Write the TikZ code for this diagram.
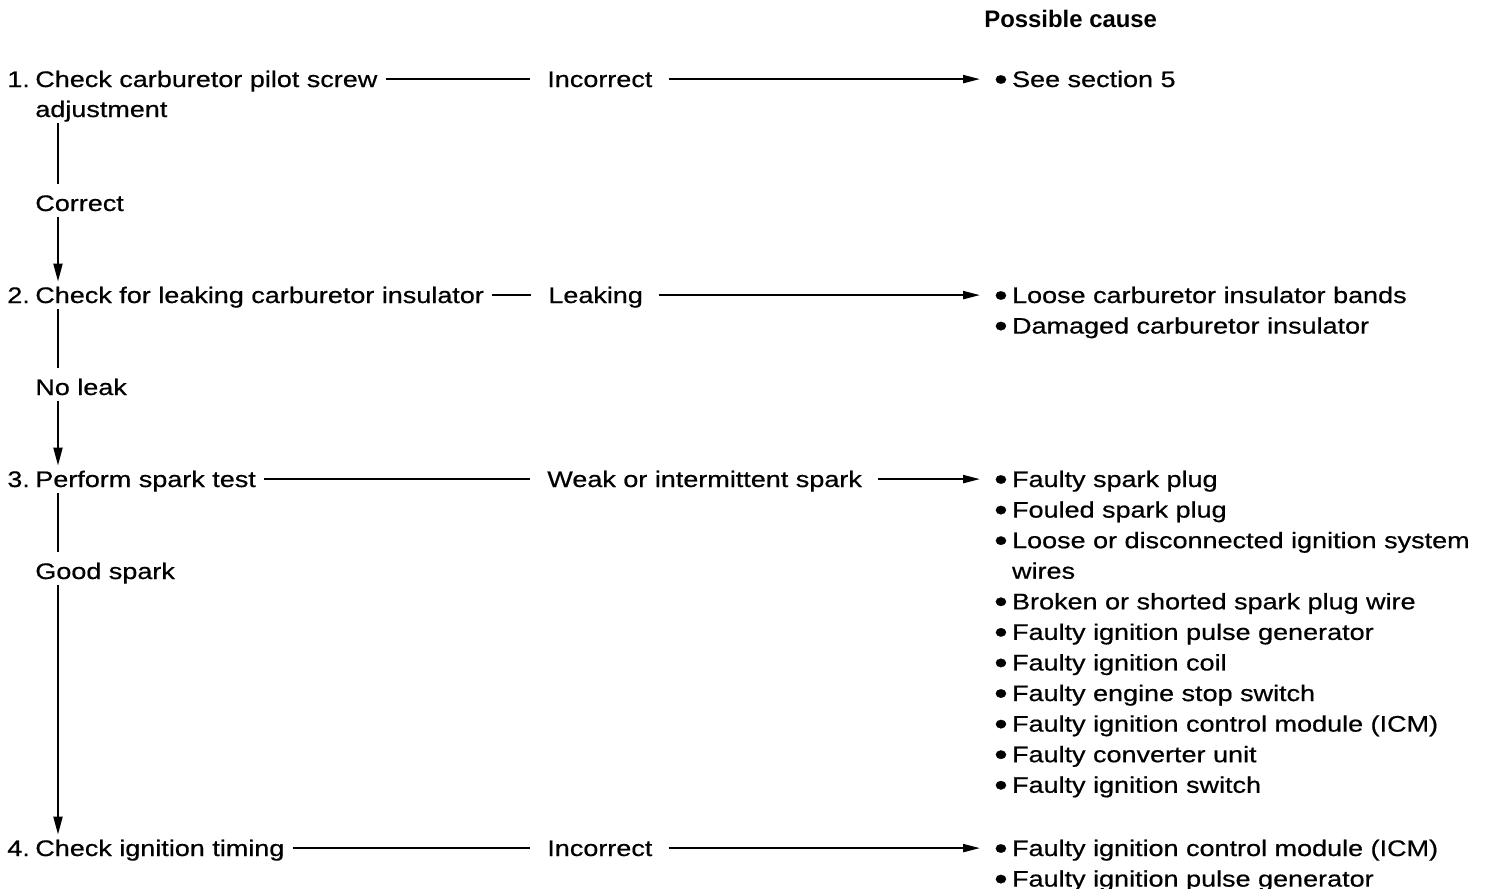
\documentclass[tikz,border=0pt]{standalone}
\usepackage{fontspec}
\setmainfont{Liberation Sans}[FakeStretch=1.2, FakeBold=0.6]
\newfontfamily\headfont{Liberation Sans}
\usepackage{tikz}
\usetikzlibrary{arrows.meta}

% 步骤编号占固定宽度，第二行可对齐
\newcommand\stepno[1]{\makebox[5.6mm][l]{#1}}
% 原因列表的圆点
\newcommand\bul{\raisebox{-0.13em}{\scalebox{1.4}{\textbullet}}\hspace{0.2em}}
% 原因列表，首行基线对齐
\newcommand\causes[1]{\begin{tabular}[t]{@{}l@{}}#1\end{tabular}}

\begin{document}
\begin{tikzpicture}[x=0.2mm, y=-0.2mm,
    every node/.style={inner sep=0pt, font=\fontsize{12.8}{17.4}\selectfont},
    txt/.style={anchor=base west, text height=12pt, text depth=3pt},
    list/.style={anchor=base west},
    link/.style={line width=1.2pt, shorten <=1.6mm, shorten >=3.4mm},
    result/.style={line width=1.2pt, -{Triangle[length=3.4mm, width=1.6mm]},
        shorten <=3.2mm, shorten >=2.8mm},
    trunk/.style={line width=1.2pt, shorten >=1.2mm},
    down/.style={line width=1.2pt, -{Triangle[length=3.6mm, width=1.8mm]}}]

    % 页面范围
    \useasboundingbox (0,0) rectangle (1485,888);

    % 左侧竖线所在的位置
    \coordinate (spine) at (58,0);

    % 表头
    \node[anchor=base west, font=\headfont\bfseries\fontsize{13.6}{16}\selectfont]
        (head) at (984,27) {Possible cause};

    % 第一步
    \node[txt] (s1)  at (7,87)   {\stepno{1.}Check carburetor pilot screw};
    \node[txt] (s1b) at (35,117) {adjustment};
    \node[txt] (r1)  at (547,87) {Incorrect};
    \node[list] (c1) at (994,87) {\causes{\bul See section 5}};

    \node[txt] (ok1) at (35,211) {Correct};

    % 第二步
    \node[txt] (s2)  at (7,303)   {\stepno{2.}Check for leaking carburetor insulator};
    \node[txt] (r2)  at (548,303) {Leaking};
    \node[list] (c2) at (994,303) {\causes{\bul Loose carburetor insulator bands\\
        \bul Damaged carburetor insulator}};

    \node[txt] (ok2) at (35,395) {No leak};

    % 第三步
    \node[txt] (s3)  at (7,487)   {\stepno{3.}Perform spark test};
    \node[txt] (r3)  at (547,487) {Weak or intermittent spark};
    \node[list] (c3) at (994,487) {\causes{\bul Faulty spark plug\\
        \bul Fouled spark plug\\
        \bul Loose or disconnected ignition system\\
        \phantom{\bul}wires\\
        \bul Broken or shorted spark plug wire\\
        \bul Faulty ignition pulse generator\\
        \bul Faulty ignition coil\\
        \bul Faulty engine stop switch\\
        \bul Faulty ignition control module (ICM)\\
        \bul Faulty converter unit\\
        \bul Faulty ignition switch}};

    \node[txt] (ok3) at (35,579) {Good spark};

    % 第四步
    \node[txt] (s4)  at (7,856)   {\stepno{4.}Check ignition timing};
    \node[txt] (r4)  at (547,856) {Incorrect};
    \node[list] (c4) at (994,856) {\causes{\bul Faulty ignition control module (ICM)\\
        \bul Faulty ignition pulse generator}};

    % 横向连线和箭头
    \draw[link] (s1) -- (r1);
    \draw[result] (r1) -- (r1 -| c1.west);
    \draw[link] (s2) -- (r2);
    \draw[result] (r2) -- (r2 -| c2.west);
    \draw[link] (s3) -- (r3);
    \draw[result] (r3) -- (r3 -| c3.west);
    \draw[link] (s4) -- (r4);
    \draw[result] (r4) -- (r4 -| c4.west);

    % 竖向主线
    \draw[trunk] (s1b.south -| spine) -- (ok1.north -| spine);
    \draw[down]  (ok1.south -| spine) -- (s2.north -| spine);
    \draw[trunk] (s2.south -| spine)  -- (ok2.north -| spine);
    \draw[down]  (ok2.south -| spine) -- (s3.north -| spine);
    \draw[trunk] (s3.south -| spine)  -- (ok3.north -| spine);
    \draw[down]  (ok3.south -| spine) -- (s4.north -| spine);
\end{tikzpicture}
\end{document}
